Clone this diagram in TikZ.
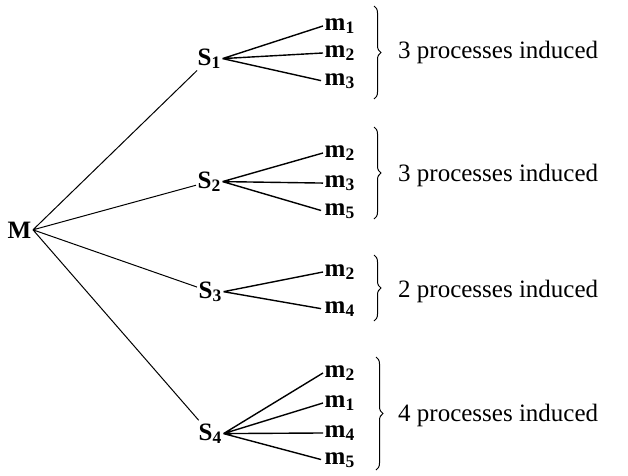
\documentclass[tikz,border=0pt]{standalone}
\usepackage{fontspec}
\setmainfont{Liberation Serif}
\usetikzlibrary{decorations.pathreplacing}

\def\bigfont{\fontsize{25}{30}\selectfont}
\def\sub#1{\textsubscript{#1}}
\tikzset{
  lbl/.style={anchor=base west, inner sep=1.5pt, font=\bigfont\bfseries},
  txt/.style={anchor=base west, inner sep=0pt, font=\bigfont},
  stem/.style={line width=1pt, shorten >=2pt},
  arm/.style={line width=1.4pt, shorten >=2pt},
  brc/.style={decorate, decoration={brace, amplitude=7pt}, line width=1pt}
}

\begin{document}
\begin{tikzpicture}[x=1pt,y=-1pt]
\useasboundingbox (0,0) rectangle (628,475);

\node[lbl] (M) at (6,238) {M};
\node[lbl] (S1) at (196,65) {S\sub{1}};
\node[lbl] (S2) at (196,188) {S\sub{2}};
\node[lbl] (S3) at (197,298) {S\sub{3}};
\node[lbl] (S4) at (197,440) {S\sub{4}};

% first group
\node[lbl] (a1) at (323,30) {m\sub{1}};
\node[lbl] (a2) at (323,57) {m\sub{2}};
\node[lbl] (a3) at (323,85) {m\sub{3}};
% second group
\node[lbl] (b1) at (323,157) {m\sub{2}};
\node[lbl] (b2) at (323,187) {m\sub{3}};
\node[lbl] (b3) at (323,215) {m\sub{5}};
% third group
\node[lbl] (c1) at (323,276) {m\sub{2}};
\node[lbl] (c2) at (323,313) {m\sub{4}};
% fourth group
\node[lbl] (d1) at (323,377) {m\sub{2}};
\node[lbl] (d2) at (323,407) {m\sub{1}};
\node[lbl] (d3) at (323,437) {m\sub{4}};
\node[lbl] (d4) at (323,464) {m\sub{5}};

\draw[stem] (M.east) -- (S1) (M.east) -- (S2) (M.east) -- (S3) (M.east) -- (S4);
\draw[arm] (S1.east) -- (a1.west) (S1.east) -- (a2.west) (S1.east) -- (a3.west);
\draw[arm] (S2.east) -- (b1.west) (S2.east) -- (b2.west) (S2.east) -- (b3.west);
\draw[arm] (S3.east) -- (c1.west) (S3.east) -- (c2.west);
\draw[arm] (S4.east) -- (d1.west) (S4.east) -- (d2.west) (S4.east) -- (d3.west) (S4.east) -- (d4.west);

\draw[brc] (374,6) -- (374,99);
\draw[brc] (374,127) -- (374,219);
\draw[brc] (374,255) -- (374,321);
\draw[brc] (376,357) -- (376,470);

\node[txt] (t1) at (398,58) {3 processes induced};
\node[txt] (t2) at (398,181) {3 processes induced};
\node[txt] (t3) at (398,297) {2 processes induced};
\node[txt] (t4) at (398,421) {4 processes induced};
\end{tikzpicture}
\end{document}
